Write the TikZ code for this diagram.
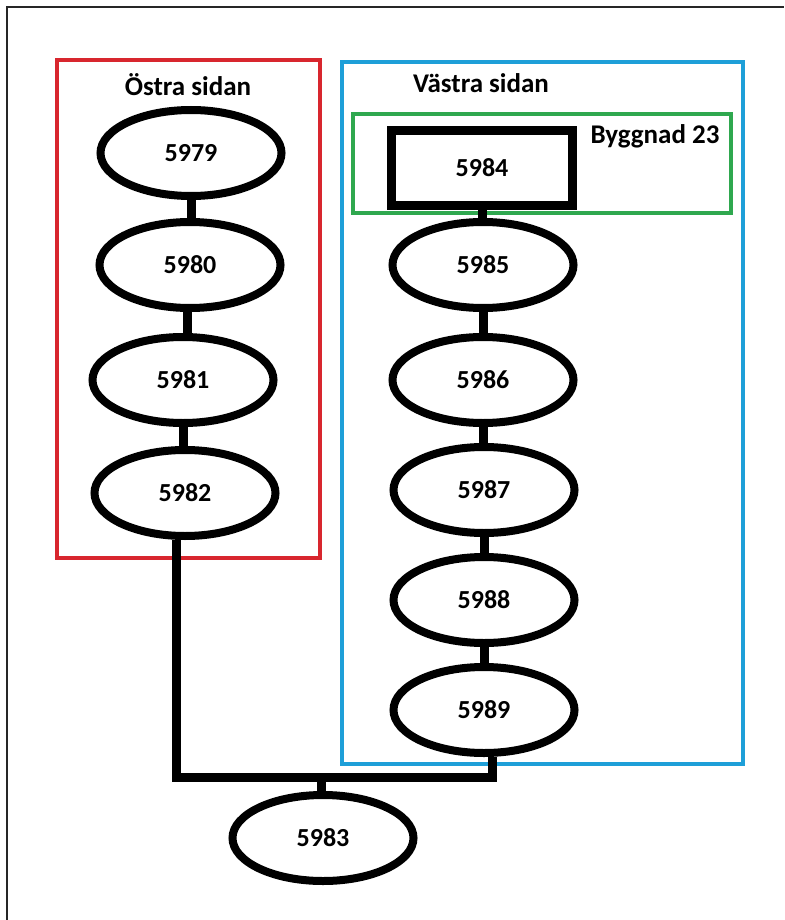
\documentclass[tikz,border=0pt]{standalone}
\usepackage{fontspec}
\setmainfont{Carlito}
\usetikzlibrary{shapes.geometric}
\definecolor{boxred}{HTML}{D8262E}
\definecolor{boxblue}{HTML}{1E9FD8}
\definecolor{boxgreen}{HTML}{2FA84F}
\tikzset{
  num/.style={ellipse, draw=black, line width=8pt, minimum width=181pt, minimum height=86pt, inner sep=0pt,
    font=\fontsize{26}{30}\selectfont\bfseries},
  numrect/.style={rectangle, draw=black, line width=9pt, minimum width=181pt, minimum height=75pt, inner sep=0pt,
    font=\fontsize{26}{30}\selectfont\bfseries},
  lbl/.style={inner sep=0pt, font=\fontsize{27}{32}\selectfont\bfseries},
  link/.style={draw=black, line width=9pt},
  frame/.style={line width=4pt},
}
\begin{document}
\begin{tikzpicture}[x=1pt,y=-1pt]
\useasboundingbox (0,0) rectangle (784,920);
\fill[white] (0,0) rectangle (784,920);
% outer frame lines
\draw[line width=1.5pt, black!85] (7,920) -- (7,7) -- (784,7);
% group boxes
\draw[frame, boxred] (57,60) rectangle (320,558);
\draw[frame, boxblue] (342,62) rectangle (743,764);
\draw[frame, boxgreen] (353,114) rectangle (731,213);
% labels
\node[lbl] (ost) at (188,85) {Östra sidan};
\node[lbl] (vast) at (481,83) {Västra sidan};
\node[lbl] (bygg) at (655,136) {Byggnad 23};
% left chain
\node[num] (n5979) at (191,153) {5979};
\node[num] (n5980) at (190,265) {5980};
\node[num] (n5981) at (183,380) {5981};
\node[num] (n5982) at (185,493) {5982};
% right chain
\node[numrect] (n5984) at (482,168) {5984};
\node[num] (n5985) at (483,265) {5985};
\node[num] (n5986) at (483,380) {5986};
\node[num] (n5987) at (484,490) {5987};
\node[num] (n5988) at (484,600) {5988};
\node[num] (n5989) at (484,710) {5989};
% bottom
\node[num] (n5983) at (323,838) {5983};
% links
\draw[link] (n5979.south) -- (n5979.south |- n5980.north);
\draw[link] ([xshift=-3pt]n5980.south) -- ([xshift=-3pt]n5980.south |- n5981.north);
\draw[link] (n5981.south) -- (n5981.south |- n5982.north);
\draw[link] (n5984.south) -- (n5984.south |- n5985.north);
\draw[link] (n5985.south) -- (n5985.south |- n5986.north);
\draw[link] (n5986.south) -- (n5986.south |- n5987.north);
\draw[link] (n5987.south) -- (n5987.south |- n5988.north);
\draw[link] (n5988.south) -- (n5988.south |- n5989.north);
\coordinate (jl) at (176,777);
\coordinate (jr) at (492,777);
\coordinate (jm) at (321,777);
\draw[link, line join=miter] (jl |- n5982.south) -- (jl) -- (jr) -- (jr |- n5989.south);
\draw[link] (jm) -- (jm |- n5983.north);
\end{tikzpicture}
\end{document}
